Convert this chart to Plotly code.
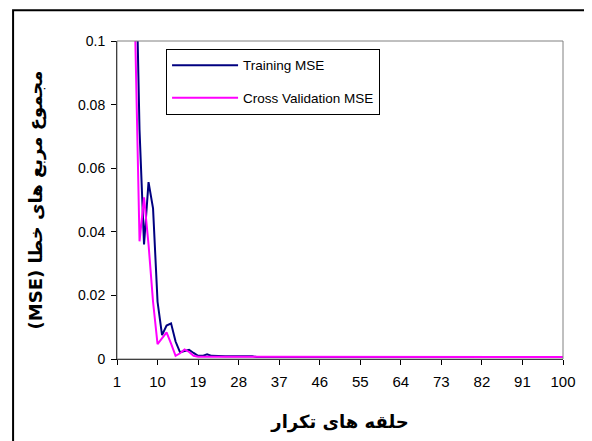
import plotly.graph_objects as go

# iterations (category axis 1..100)
iterations = list(range(1, 101))

# the first few points are off the top of the chart
training_mse = [0.60, 0.40, 0.26, 0.18, 0.14, 0.072, 0.036, 0.0556, 0.0474, 0.018,
                0.0075, 0.0105, 0.0112, 0.0055, 0.0021, 0.0024, 0.0029, 0.0019, 0.0010, 0.0010,
                0.0015, 0.0010, 0.0009, 0.0009, 0.0009, 0.0009, 0.0009, 0.0009, 0.0009, 0.0009,
                0.0009] + [0.0006] * 69
cv_mse = [0.50, 0.33, 0.20, 0.14, 0.105, 0.037, 0.0508, 0.036, 0.018, 0.0047,
          0.0065, 0.0084, 0.0048, 0.0010, 0.0018, 0.0030, 0.0022, 0.0010, 0.0007, 0.0007,
          0.0007, 0.0007, 0.0007, 0.0007, 0.0007, 0.0007, 0.0007, 0.0007, 0.0007, 0.0007,
          0.0007] + [0.0006] * 69

x_ticks = [1, 10, 19, 28, 37, 46, 55, 64, 73, 82, 91, 100]
y_ticks = [0, 0.02, 0.04, 0.06, 0.08, 0.1]
y_ticktext = ["0", "0.02", "0.04", "0.06", "0.08", "0.1"]

base_font = "Liberation Sans, Arial, DejaVu Sans"
title_font = dict(family="DejaVu Sans", size=18, color="black", weight="bold")

fig = go.Figure()
fig.add_trace(go.Scatter(x=iterations, y=training_mse, mode="lines", name="Training MSE",
                         line=dict(color="#000080", width=2), legendgroup="a"))
fig.add_trace(go.Scatter(x=iterations, y=cv_mse, mode="lines", name="Cross Validation MSE",
                         line=dict(color="#FF00FF", width=2), legendgroup="b"))

# outer chart frame first (its right and bottom edges run off the picture)
fig.add_shape(type="rect", xref="paper", yref="paper", x0=-0.233, y0=-0.3, x1=1.1, y1=1.097,
              line=dict(color="black", width=2), layer="above")
# grey plot-area border
fig.add_shape(type="rect", xref="paper", yref="paper", x0=0, y0=0, x1=1, y1=1,
              line=dict(color="#808080", width=1), layer="above")

# the page body has an 8px margin, so the figure is 8px smaller than the window
fig.update_layout(
    width=584, height=433,
    margin=dict(l=109, r=29, t=33, b=82),
    plot_bgcolor="white",
    font=dict(family=base_font, size=14, color="black"),
    showlegend=True,
    legend=dict(x=0.11, y=0.975, xanchor="left", yanchor="top",
                bordercolor="black", borderwidth=1, bgcolor="white",
                font=dict(size=13.5), traceorder="grouped", tracegroupgap=12,
                itemwidth=66),
    xaxis=dict(range=[1, 100], tickvals=x_ticks, ticks="outside", ticklen=5,
               tickcolor="black", showline=True, linecolor="black", linewidth=1,
               showgrid=False, zeroline=False, ticklabelstandoff=4, automargin=False,
               tickfont=dict(size=15),
               title=dict(text="حلقه های تکرار", font=title_font, standoff=26)),
    yaxis=dict(range=[0, 0.1], tickvals=y_ticks, ticktext=y_ticktext, ticks="outside",
               ticklen=5, tickcolor="black", showline=True, linecolor="black", linewidth=1,
               showgrid=False, zeroline=False, ticklabelstandoff=3, automargin=False,
               title=dict(text="(MSE) مجموع مربع های خطا", font=title_font, standoff=30)),
)

fig.write_html("out.html")
